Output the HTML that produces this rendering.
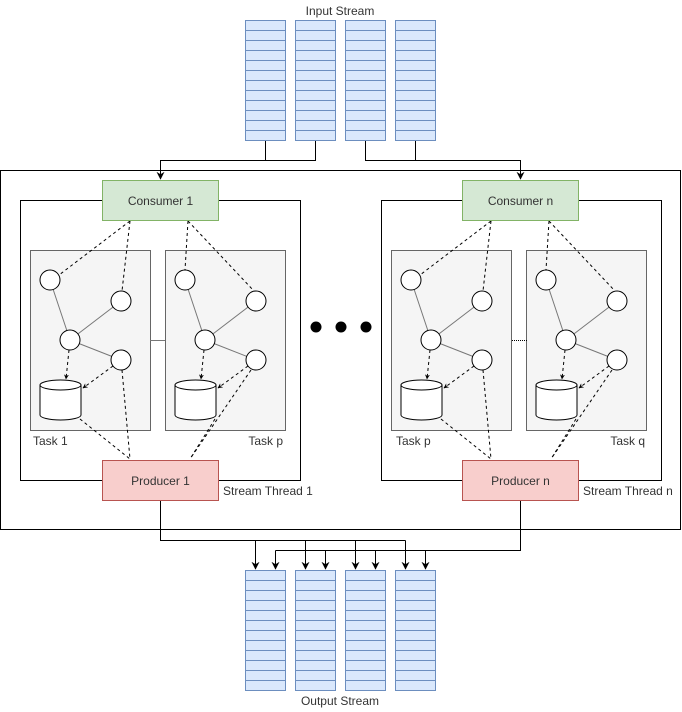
<!DOCTYPE html>
<html><head><meta charset="utf-8"><style>
html,body{margin:0;padding:0;background:#fff;}
svg{display:block;font-family:"Liberation Sans",Arial,sans-serif;}
</style></head><body>
<svg width="682" height="712" viewBox="0 0 682 712" xmlns="http://www.w3.org/2000/svg">
<defs>
<pattern id="rows" x="0" y="0" width="40" height="10" patternUnits="userSpaceOnUse">
<rect width="40" height="10" fill="#dae8fc"/><line x1="0" y1="0.5" x2="40" y2="0.5" stroke="#6c8ebf" stroke-width="1"/>
</pattern>
<marker id="ar" viewBox="0 0 10 10" refX="9" refY="5" markerWidth="8" markerHeight="8" orient="auto" markerUnits="userSpaceOnUse"><path d="M0,0 L10,5 L0,10 L3,5 z" fill="#000"/></marker>
<marker id="as" viewBox="0 0 10 10" refX="9" refY="5" markerWidth="5" markerHeight="5" orient="auto" markerUnits="userSpaceOnUse"><path d="M0,0 L10,5 L0,10 L3,5 z" fill="#000"/></marker>
<g id="col">
<rect x="0.5" y="0.5" width="40" height="120" fill="url(#rows)" stroke="#6c8ebf"/>
</g>
<g id="task">
<rect x="0.5" y="0.5" width="120" height="180" fill="#f5f5f5" stroke="#666"/>
<line x1="20" y1="30" x2="40" y2="90" stroke="#777"/>
<line x1="40" y1="90" x2="91" y2="51" stroke="#777"/>
<line x1="40" y1="90" x2="91" y2="110" stroke="#777"/>
<circle cx="20" cy="30" r="10" fill="#fff" stroke="#000"/>
<circle cx="91" cy="51" r="10" fill="#fff" stroke="#000"/>
<circle cx="40" cy="90" r="10" fill="#fff" stroke="#000"/>
<circle cx="91" cy="110" r="10" fill="#fff" stroke="#000"/>
<path d="M10,135 v30 a20.5,5 0 0 0 41,0 v-30" fill="#fff" stroke="#000"/>
<ellipse cx="30.5" cy="135" rx="20.5" ry="5" fill="#fff" stroke="#000"/>
<line x1="39" y1="100" x2="36" y2="129" stroke="#000" stroke-dasharray="3,3" marker-end="url(#as)"/>
<line x1="83" y1="116" x2="53" y2="138" stroke="#000" stroke-dasharray="3,3" marker-end="url(#as)"/>
</g>
<g id="thread">
<rect x="20.5" y="200.5" width="280" height="280" fill="#fff" stroke="#000"/>
<use href="#task" x="30" y="250"/>
<use href="#task" x="165" y="250"/>
<g stroke="#000" stroke-dasharray="3,3" fill="none">
<line x1="130" y1="221" x2="59" y2="275"/>
<line x1="130" y1="221" x2="122" y2="291"/>
<line x1="188" y1="221" x2="185" y2="270"/>
<line x1="188" y1="221" x2="254" y2="291"/>
<line x1="80" y1="419" x2="130" y2="459"/>
<line x1="122" y1="370" x2="130" y2="459"/>
<line x1="215" y1="419" x2="190" y2="459"/>
<line x1="251" y1="370" x2="190" y2="459"/>
</g>
</g>
</defs>

<text x="340" y="15" font-size="12" text-anchor="middle" fill="#333">Input Stream</text>
<use href="#col" x="245" y="20"/><use href="#col" x="295" y="20"/><use href="#col" x="345" y="20"/><use href="#col" x="395" y="20"/>

<rect x="0.5" y="170.5" width="680" height="359" fill="#fff" stroke="#000"/>

<g fill="none" stroke="#000">
<polyline points="265.5,141 265.5,160.5 315.5,160.5 315.5,141"/>
<polyline points="265.5,160.5 160.5,160.5 160.5,179" marker-end="url(#ar)"/>
<polyline points="365.5,141 365.5,160.5 520.5,160.5 520.5,179" marker-end="url(#ar)"/>
<line x1="415.5" y1="141" x2="415.5" y2="160.5"/>
</g>

<use href="#thread"/>
<line x1="150" y1="340.5" x2="165" y2="340.5" stroke="#777"/>
<rect x="102.5" y="180.5" width="116" height="40" fill="#d5e8d4" stroke="#82b366"/>
<text x="160.5" y="205" font-size="12" text-anchor="middle" fill="#333">Consumer 1</text>
<rect x="102.5" y="460.5" width="116" height="40" fill="#f8cecc" stroke="#b85450"/>
<text x="160.5" y="485" font-size="12" text-anchor="middle" fill="#333">Producer 1</text>
<text x="33" y="445" font-size="12" fill="#333">Task 1</text>
<text x="283" y="445" font-size="12" text-anchor="end" fill="#333">Task p</text>
<text x="223" y="495" font-size="12" fill="#333">Stream Thread 1</text>

<use href="#thread" x="361"/>
<line x1="512" y1="340.5" x2="527" y2="340.5" stroke="#000" stroke-dasharray="1,1"/>
<rect x="462.5" y="180.5" width="116" height="40" fill="#d5e8d4" stroke="#82b366"/>
<text x="520.5" y="205" font-size="12" text-anchor="middle" fill="#333">Consumer n</text>
<rect x="462.5" y="460.5" width="116" height="40" fill="#f8cecc" stroke="#b85450"/>
<text x="520.5" y="485" font-size="12" text-anchor="middle" fill="#333">Producer n</text>
<text x="396" y="445" font-size="12" fill="#333">Task p</text>
<text x="645" y="445" font-size="12" text-anchor="end" fill="#333">Task q</text>
<text x="583" y="495" font-size="12" fill="#333">Stream Thread n</text>

<circle cx="316" cy="327" r="5.5" fill="#000"/>
<circle cx="341" cy="327" r="5.5" fill="#000"/>
<circle cx="366" cy="327" r="5.5" fill="#000"/>

<g fill="none" stroke="#000">
<polyline points="160.5,501 160.5,540.5 405.5,540.5"/>
<polyline points="520.5,501 520.5,550.5 275.5,550.5"/>
<line x1="255.5" y1="540.5" x2="255.5" y2="569" marker-end="url(#ar)"/>
<line x1="305.5" y1="540.5" x2="305.5" y2="569" marker-end="url(#ar)"/>
<line x1="355.5" y1="540.5" x2="355.5" y2="569" marker-end="url(#ar)"/>
<line x1="405.5" y1="540.5" x2="405.5" y2="569" marker-end="url(#ar)"/>
<line x1="275.5" y1="550.5" x2="275.5" y2="569" marker-end="url(#ar)"/>
<line x1="325.5" y1="550.5" x2="325.5" y2="569" marker-end="url(#ar)"/>
<line x1="375.5" y1="550.5" x2="375.5" y2="569" marker-end="url(#ar)"/>
<line x1="425.5" y1="550.5" x2="425.5" y2="569" marker-end="url(#ar)"/>
</g>

<use href="#col" x="245" y="570"/><use href="#col" x="295" y="570"/><use href="#col" x="345" y="570"/><use href="#col" x="395" y="570"/>
<text x="340" y="705" font-size="12" text-anchor="middle" fill="#333">Output Stream</text>
</svg>
</body></html>
